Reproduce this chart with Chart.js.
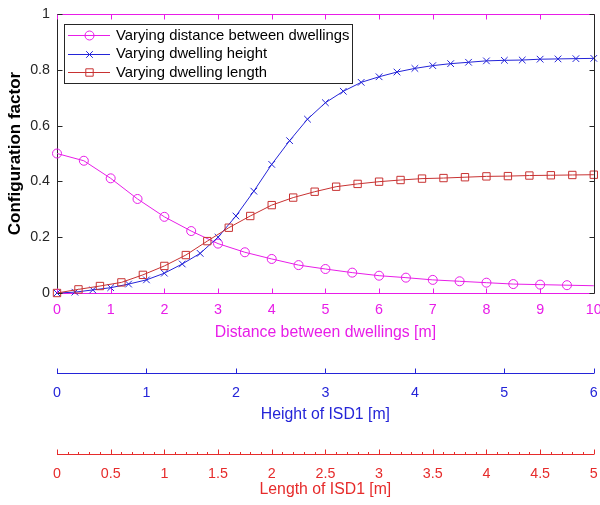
<!DOCTYPE html>
<html>
<head>
<meta charset="utf-8">
<script src="https://cdn.jsdelivr.net/npm/chart.js@4/dist/chart.umd.min.js"></script>
<style>
  html, body { margin: 0; padding: 0; background: #ffffff; }
  #wrap { width: 600px; height: 505px; }
</style>
</head>
<body>
<div id="wrap"><canvas id="cf" width="600" height="505"></canvas></div>
<script>
// Configuration factor versus three geometric parameters

// Distance between dwellings [m] and its configuration factor
const distance = [0, 0.5, 1, 1.5, 2, 2.5, 3, 3.5, 4, 4.5, 5, 5.5, 6, 6.5, 7, 7.5, 8, 8.5, 9, 9.5, 10];
const distanceCF = [0.500, 0.474, 0.411, 0.337, 0.273, 0.222, 0.177, 0.146, 0.122, 0.100, 0.086,
                    0.073, 0.062, 0.055, 0.047, 0.042, 0.037, 0.032, 0.030, 0.028, 0.026];

// Height of ISD1 [m] and its configuration factor
const height = [0, 0.2, 0.4, 0.6, 0.8, 1, 1.2, 1.4, 1.6, 1.8, 2, 2.2, 2.4, 2.6, 2.8, 3,
                3.2, 3.4, 3.6, 3.8, 4, 4.2, 4.4, 4.6, 4.8, 5, 5.2, 5.4, 5.6, 5.8, 6];
const heightCF = [0, 0.003, 0.011, 0.019, 0.032, 0.047, 0.071, 0.104, 0.142, 0.200, 0.276,
                  0.365, 0.461, 0.546, 0.623, 0.682, 0.723, 0.755, 0.775, 0.792, 0.805,
                  0.815, 0.822, 0.827, 0.832, 0.834, 0.835, 0.838, 0.839, 0.840, 0.841];

// Length of ISD1 [m] and its configuration factor
const lengthISD = [0, 0.2, 0.4, 0.6, 0.8, 1, 1.2, 1.4, 1.6, 1.8, 2, 2.2, 2.4, 2.6, 2.8, 3,
                   3.2, 3.4, 3.6, 3.8, 4, 4.2, 4.4, 4.6, 4.8, 5];
const lengthCF = [0, 0.013, 0.025, 0.038, 0.065, 0.097, 0.136, 0.186, 0.234, 0.276, 0.315,
                  0.342, 0.363, 0.381, 0.391, 0.399, 0.405, 0.410, 0.412, 0.415, 0.418,
                  0.419, 0.421, 0.422, 0.423, 0.424];

// Tick labels
const cfTicks = ['0', '0.2', '0.4', '0.6', '0.8', '1'];
const distanceTicks = ['0', '1', '2', '3', '4', '5', '6', '7', '8', '9', '10'];
const heightTicks = ['0', '1', '2', '3', '4', '5', '6'];
const lengthTicks = ['0', '0.5', '1', '1.5', '2', '2.5', '3', '3.5', '4', '4.5', '5'];

const seriesNames = ['Varying distance between dwellings', 'Varying dwelling height', 'Varying dwelling length'];

const MAGENTA = '#e81de8';
const BLUE = '#2424d8';
const RED_LINE = '#c83232';
const RED_AXIS = '#e62b2b';
const DARK = '#262626';
const FONT = "'Liberation Sans', Arial, Helvetica, sans-serif";
const tickFont = { family: FONT, size: 14.3 };
const titleFont = { family: FONT, size: 15.8 };

const toXY = (xs, ys) => xs.map((v, i) => ({ x: v, y: ys[i] }));

// Inside tick marks, closing box edges and the extra axes' ticks
const framePlugin = {
  id: 'frame',
  afterDatasetsDraw(chart) {
    const { ctx, chartArea: a, scales } = chart;
    const px = v => Math.round(v) + 0.5;
    const L = px(a.left), R = px(a.right), T = px(a.top), B = px(a.bottom);
    ctx.save();
    ctx.lineWidth = 1;

    // top edge (magenta) with inward ticks, bottom inward ticks
    ctx.strokeStyle = MAGENTA;
    ctx.beginPath();
    ctx.moveTo(L, T); ctx.lineTo(R, T);
    scales.x.ticks.forEach(t => {
      const x = px(scales.x.getPixelForValue(t.value));
      ctx.moveTo(x, T); ctx.lineTo(x, T + 5);
      ctx.moveTo(x, B); ctx.lineTo(x, B - 5);
    });
    ctx.stroke();

    // right edge (dark) with inward ticks, left inward ticks
    ctx.strokeStyle = DARK;
    ctx.beginPath();
    ctx.moveTo(R, T); ctx.lineTo(R, B);
    scales.y.ticks.forEach(t => {
      const y = px(scales.y.getPixelForValue(t.value));
      ctx.moveTo(L, y); ctx.lineTo(L + 5, y);
      ctx.moveTo(R, y); ctx.lineTo(R - 5, y);
    });
    ctx.stroke();

    // height axis ticks (pointing up from its line)
    const hy = px(scales.xh.top);
    ctx.strokeStyle = BLUE;
    ctx.beginPath();
    scales.xh.ticks.forEach(t => {
      const x = px(scales.xh.getPixelForValue(t.value));
      ctx.moveTo(x, hy); ctx.lineTo(x, hy - 5);
    });
    ctx.stroke();

    // length axis: major ticks every 0.5, minor every 0.1
    const ly = px(scales.xl.top);
    ctx.strokeStyle = RED_AXIS;
    ctx.beginPath();
    for (let k = 0; k <= 50; k++) {
      const x = px(scales.xl.getPixelForValue(k / 10));
      const len = (k % 5 === 0) ? 5 : 2.5;
      ctx.moveTo(x, ly); ctx.lineTo(x, ly - len);
    }
    ctx.stroke();
    ctx.restore();
  }
};

// Boxed legend in the upper-left corner of the plot
const legendPlugin = {
  id: 'boxLegend',
  afterDraw(chart) {
    const { ctx } = chart;
    const bx = 64.5, by = 24.5, bw = 288, bh = 59;
    ctx.save();
    ctx.fillStyle = '#ffffff';
    ctx.fillRect(bx, by, bw, bh);
    ctx.strokeStyle = DARK;
    ctx.lineWidth = 1;
    ctx.strokeRect(bx, by, bw, bh);

    const rows = [35, 53.5, 72];
    chart.data.datasets.forEach((ds, i) => {
      const y = Math.round(rows[i]) + 0.5;
      ctx.strokeStyle = ds.borderColor;
      ctx.lineWidth = 1;
      ctx.beginPath();
      ctx.moveTo(68, y); ctx.lineTo(110, y);
      ctx.stroke();
      const mx = 89.5;
      ctx.beginPath();
      if (ds.pointStyle === 'circle') {
        ctx.arc(mx, y, 4.5, 0, Math.PI * 2);
      } else if (ds.pointStyle === 'rect') {
        ctx.rect(mx - 3.7, y - 3.7, 7.4, 7.4);
      } else {
        const d = 3.3;
        ctx.moveTo(mx - d, y - d); ctx.lineTo(mx + d, y + d);
        ctx.moveTo(mx + d, y - d); ctx.lineTo(mx - d, y + d);
      }
      ctx.stroke();
      ctx.fillStyle = '#000000';
      ctx.font = '14.8px ' + FONT;
      ctx.textBaseline = 'middle';
      ctx.textAlign = 'left';
      ctx.fillText(ds.label, 116, rows[i] + 0.5);
    });
    ctx.restore();
  }
};

const fixHeight = h => s => {
  s.height = h;
  s.paddingLeft = 0;
  s.paddingRight = 0;
};

new Chart(document.getElementById('cf'), {
  type: 'line',
  data: {
    datasets: [
      {
        label: seriesNames[0],
        data: toXY(distance, distanceCF),
        xAxisID: 'x', yAxisID: 'y',
        borderColor: MAGENTA, borderWidth: 1,
        pointStyle: 'circle',
        pointRadius: c => (c.dataIndex === distance.length - 1 ? 0 : 4.5),
        pointBorderColor: MAGENTA, pointBackgroundColor: 'rgba(0,0,0,0)',
        pointBorderWidth: 1, tension: 0, clip: false, order: 3
      },
      {
        label: seriesNames[1],
        data: toXY(height, heightCF),
        xAxisID: 'xh', yAxisID: 'y',
        borderColor: BLUE, borderWidth: 1,
        pointStyle: 'crossRot', pointRadius: 4.7,
        pointBorderColor: BLUE, pointBackgroundColor: 'rgba(0,0,0,0)',
        pointBorderWidth: 1, tension: 0, clip: false, order: 2
      },
      {
        label: seriesNames[2],
        data: toXY(lengthISD, lengthCF),
        xAxisID: 'xl', yAxisID: 'y',
        borderColor: RED_LINE, borderWidth: 1,
        pointStyle: 'rect', pointRadius: 5.2,
        pointBorderColor: RED_LINE, pointBackgroundColor: 'rgba(0,0,0,0)',
        pointBorderWidth: 1, tension: 0, clip: false, order: 1
      }
    ]
  },
  options: {
    responsive: false,
    animation: false,
    events: [],
    layout: { padding: { top: 14, right: 6, left: 0, bottom: 0 } },
    plugins: { legend: { display: false }, tooltip: { enabled: false } },
    scales: {
      y: {
        type: 'linear', position: 'left', min: 0, max: 1,
        ticks: { stepSize: 0.2, color: DARK, font: tickFont, padding: 7,
                 callback: (v, i) => cfTicks[i] },
        grid: { display: false, drawTicks: false },
        border: { display: true, color: DARK, width: 1 },
        title: { display: true, text: 'Configuration factor', color: '#000000',
                 font: { family: FONT, size: 17, weight: 'bold' }, padding: { top: 5, bottom: 0 } },
        afterFit: s => { s.width = 57; s.paddingTop = 0; s.paddingBottom = 0; }
      },
      x: {
        type: 'linear', position: 'bottom', weight: 0, min: 0, max: 10,
        ticks: { stepSize: 1, color: MAGENTA, font: tickFont, padding: 8.5, maxRotation: 0, autoSkip: false,
                 callback: (v, i) => distanceTicks[i] },
        grid: { display: false, drawTicks: false },
        border: { display: true, color: MAGENTA, width: 1 },
        title: { display: true, text: 'Distance between dwellings [m]', color: MAGENTA,
                 font: titleFont, padding: { top: 0, bottom: 31 } },
        afterFit: fixHeight(80)
      },
      xh: {
        type: 'linear', position: 'bottom', weight: 1, min: 0, max: 6,
        ticks: { stepSize: 1, color: BLUE, font: tickFont, padding: 11, maxRotation: 0, autoSkip: false,
                 callback: (v, i) => heightTicks[i] },
        grid: { display: false, drawTicks: false },
        border: { display: true, color: BLUE, width: 1 },
        title: { display: true, text: 'Height of ISD1 [m]', color: BLUE,
                 font: titleFont, padding: { top: 0, bottom: 30 } },
        afterFit: fixHeight(81)
      },
      xl: {
        type: 'linear', position: 'bottom', weight: 2, min: 0, max: 5,
        ticks: { stepSize: 0.5, color: RED_AXIS, font: tickFont, padding: 11, maxRotation: 0, autoSkip: false,
                 callback: (v, i) => lengthTicks[i] },
        grid: { display: false, drawTicks: false },
        border: { display: true, color: RED_AXIS, width: 1 },
        title: { display: true, text: 'Length of ISD1 [m]', color: RED_AXIS,
                 font: titleFont, padding: { top: 0, bottom: 6 } },
        afterFit: fixHeight(51)
      }
    }
  },
  plugins: [framePlugin, legendPlugin]
});
</script>
</body>
</html>
